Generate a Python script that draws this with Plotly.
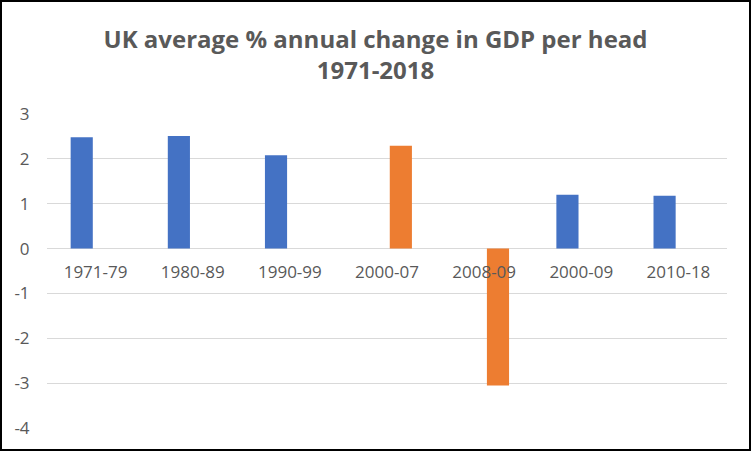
import plotly.graph_objects as go

# Periods and average % annual change in UK GDP per head
periods = ['1971-79', '1980-89', '1990-99', '2000-07', '2008-09', '2000-09', '2010-18']
decade_avg = [2.48, 2.51, 2.08, None, None, 1.20, 1.18]
crisis_avg = [None, None, None, 2.29, -3.05, None, None]
y_ticks = [-4, -3, -2, -1, 0, 1, 2, 3]
y_labels = ['-4', '-3', '-2', '-1', '0', '1', '2', '3']

TEXT = '#595959'
GRID = '#D9D9D9'

fig = go.Figure()
fig.add_trace(go.Bar(x=periods, y=decade_avg, marker=dict(color='#4472C4', line=dict(width=0)),
                     name='Series 1', hoverinfo='x+y'))
fig.add_trace(go.Bar(x=periods, y=crisis_avg, marker=dict(color='#ED7D31', line=dict(width=0)),
                     name='Series 2', hoverinfo='x+y'))

W, H = 751, 451
L, R, T, B = 47, 24, 114, 23
pw, ph = W - L - R, H - T - B

fig.update_layout(
	width=W, height=H,
	margin=dict(l=L, r=R, t=T, b=B),
	paper_bgcolor='white', plot_bgcolor='white',
	showlegend=False,
	barmode='group', bargap=0.43, bargroupgap=0.2,
	font=dict(family='Open Sans', size=16, color=TEXT),
	title=dict(text='<b>UK average % annual change in GDP per head<br>1971-2018</b>',
			   x=0.5, xref='container', xanchor='center',
			   y=1 - 48 / H, yref='container', yanchor='middle',
			   font=dict(family='Open Sans', size=24, color=TEXT)),
	xaxis=dict(type='category', anchor='free', position=4 / 7,
			   showline=False, showgrid=False, ticks='outside', ticklen=8,
			   tickcolor='rgba(0,0,0,0)', tickfont=dict(size=17, color=TEXT)),
	yaxis=dict(range=[-4, 3], tickvals=y_ticks, ticktext=y_labels,
			   showgrid=True, gridcolor=GRID, gridwidth=1,
			   zeroline=True, zerolinecolor=GRID, zerolinewidth=1, showline=False,
			   ticks='outside', ticklen=13, tickcolor='rgba(0,0,0,0)',
			   tickfont=dict(size=17, color=TEXT)),
	shapes=[dict(type='rect', xref='paper', yref='paper',
				 x0=(1 - L) / pw, x1=(W - 1 - L) / pw,
				 y0=(H - B - (H - 1)) / ph, y1=(H - B - 1) / ph,
				 line=dict(color='black', width=2), fillcolor='rgba(0,0,0,0)', layer='above')],
)

# page body margin would push the figure off the window
fig.write_html('out.html', config={'displayModeBar': False},
			   post_script="document.body.style.margin='0';document.body.style.overflow='hidden';")
